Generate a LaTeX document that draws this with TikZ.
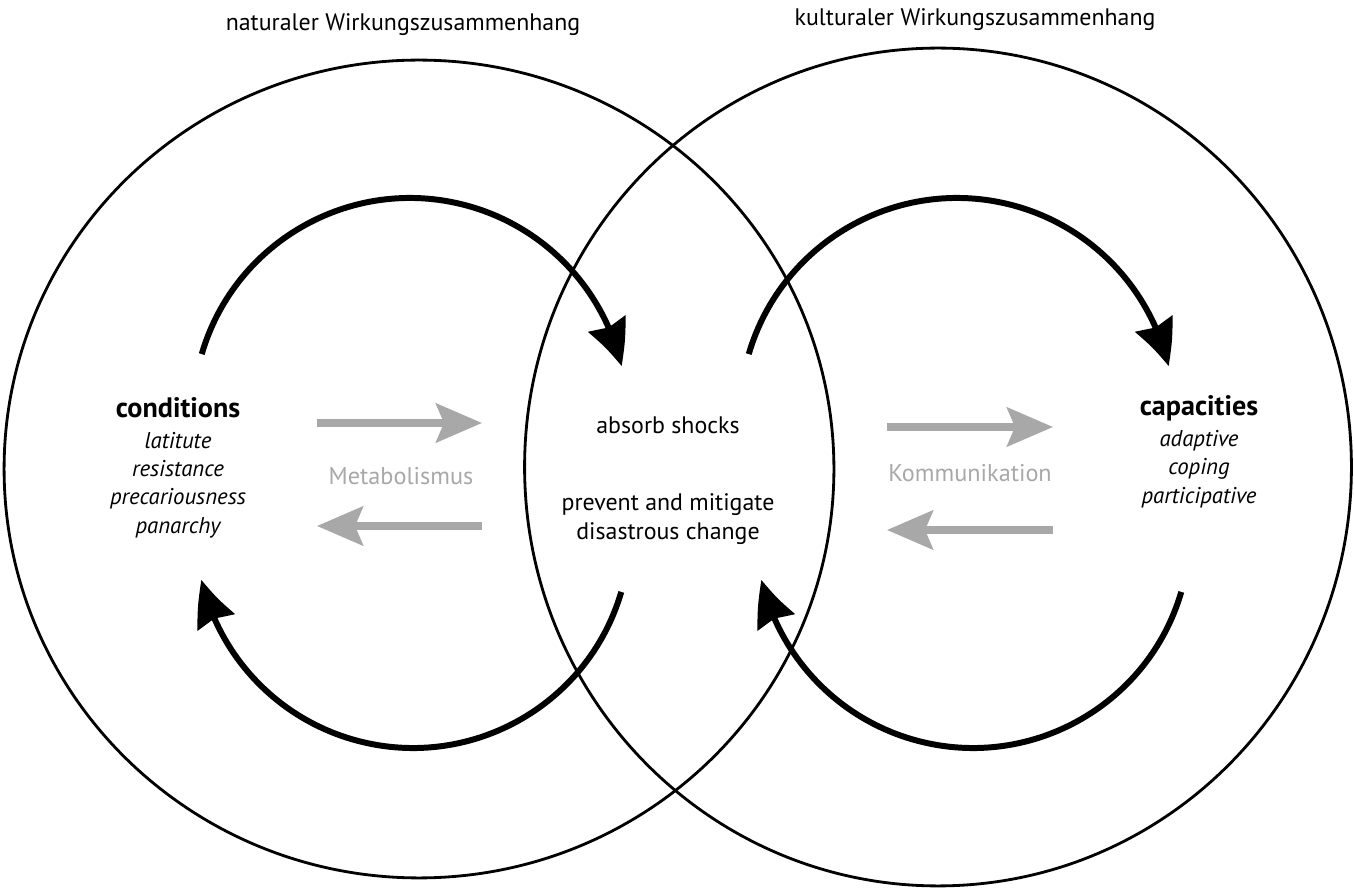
\documentclass[tikz,border=0pt]{standalone}
\usepackage{fontspec}
\setmainfont{PT Sans}
\usetikzlibrary{arrows.meta,bending,shapes.geometric}
\definecolor{flowgray}{RGB}{168,168,168}
\begin{document}
\begin{tikzpicture}[x=0.02cm,y=0.02cm]
  \useasboundingbox (0,0) rectangle (1354,889);

  \begin{scope}[every node/.style={ellipse,draw,line width=1.6pt,inner sep=0pt}]
    \node[minimum width=16.6cm,minimum height=16.36cm] (nat) at (419,420) {};
    \node[minimum width=16.54cm,minimum height=16.76cm] (kul) at (938,422) {};
  \end{scope}

  \coordinate (nt) at (410,474);
  \coordinate (nb) at (413,358);
  \coordinate (kt) at (957,474);
  \coordinate (kb) at (973,358);

  \begin{scope}[every path/.style={line width=3.4pt,-{Stealth[length=0.9cm,width=0.8cm,inset=0.08cm,bend]}}]
    \draw ([shift={(163.7:217)}]nt) arc[start angle=163.7,end angle=13,radius=217];
    \draw ([shift={(-16.3:217)}]nb) arc[start angle=-16.3,end angle=-167,radius=217];
    \draw ([shift={(163.7:217)}]kt) arc[start angle=163.7,end angle=13,radius=217];
    \draw ([shift={(-16.3:217)}]kb) arc[start angle=-16.3,end angle=-167,radius=217];
  \end{scope}

  \begin{scope}[every node/.style={font=\fontsize{13.6}{16.4}\selectfont}]
    \node (natlabel) at (403,864) {naturaler Wirkungszusammenhang};
    \node (kullabel) at (975,869) {kulturaler Wirkungszusammenhang};
    \node (absorb) at (668,464) {absorb shocks};
    \node[align=center] (prevent) at (668,370) {prevent and mitigate\\disastrous change};
  \end{scope}

  \begin{scope}[every node/.style={font=\fontsize{16}{19}\selectfont\bfseries}]
    \node (cond) at (178,481) {conditions};
    \node (capa) at (1199,481) {capacities};
  \end{scope}

  \begin{scope}[every node/.style={align=center,font=\fontsize{13}{16.2}\selectfont\itshape}]
    \node (condlist) at (178,404) {latitute\\resistance\\precariousness\\panarchy};
    \node (capalist) at (1199,420) {adaptive\\coping\\participative};
  \end{scope}

  \coordinate (m1) at (317,466);
  \coordinate (m2) at (482,466);
  \coordinate (m3) at (482,363);
  \coordinate (m4) at (317,363);
  \coordinate (k1) at (887,462);
  \coordinate (k2) at (1053,462);
  \coordinate (k3) at (1053,359);
  \coordinate (k4) at (887,359);

  \begin{scope}[flowgray,every path/.style={line width=4pt,-{Stealth[length=0.92cm,width=0.78cm,inset=0.16cm]}}]
    \draw (m1) -- (m2);
    \draw (m3) -- (m4);
    \draw (k1) -- (k2);
    \draw (k3) -- (k4);
    \node[font=\fontsize{13.8}{16}\selectfont] (meta) at (401,413) {Metabolismus};
    \node[font=\fontsize{13.8}{16}\selectfont] (komm) at (970,416) {Kommunikation};
  \end{scope}

\end{tikzpicture}
\end{document}
